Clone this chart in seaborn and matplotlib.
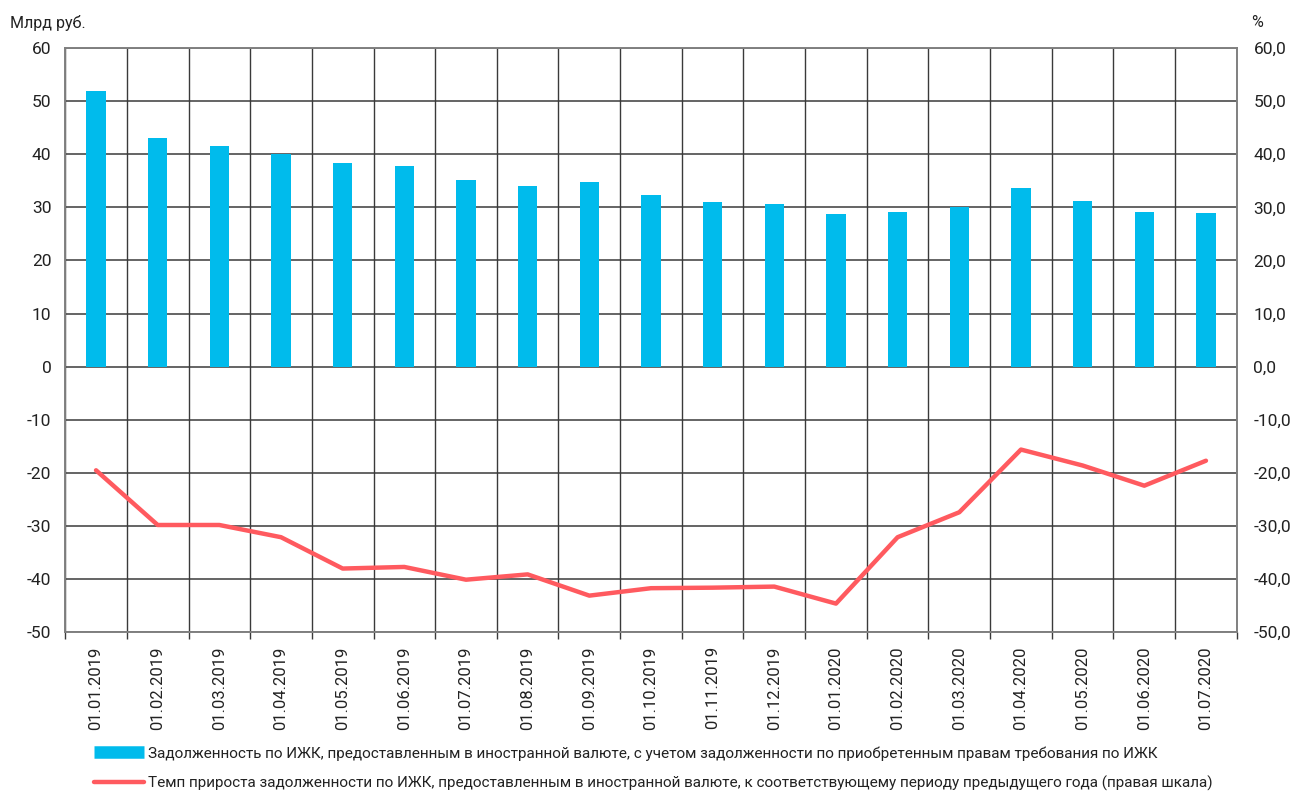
import numpy as np
import pandas as pd
import matplotlib
matplotlib.use("Agg")
import matplotlib.pyplot as plt
from matplotlib.lines import Line2D
import seaborn as sns

dates = ['01.01.2019', '01.02.2019', '01.03.2019', '01.04.2019', '01.05.2019',
         '01.06.2019', '01.07.2019', '01.08.2019', '01.09.2019', '01.10.2019',
         '01.11.2019', '01.12.2019', '01.01.2020', '01.02.2020', '01.03.2020',
         '01.04.2020', '01.05.2020', '01.06.2020', '01.07.2020']
debt = [51.9, 43.1, 41.6, 40.0, 38.4, 37.7, 35.1, 34.0, 34.7, 32.4,
        31.0, 30.7, 28.7, 29.2, 30.1, 33.6, 31.2, 29.2, 28.9]
growth = [-19.5, -29.8, -29.8, -32.1, -38.0, -37.7, -40.1, -39.1, -43.1, -41.7,
          -41.6, -41.4, -44.6, -32.1, -27.4, -15.6, -18.6, -22.4, -17.7]
left_ticks = list(range(-50, 61, 10))
right_labels = ['{:.1f}'.format(v).replace('.', ',') for v in left_ticks]

bar_label = 'Задолженность по ИЖК, предоставленным в иностранной валюте, с учетом задолженности по приобретенным правам требования по ИЖК'
line_label = 'Темп прироста задолженности по ИЖК, предоставленным в иностранной валюте, к соответствующему периоду предыдущего года (правая шкала)'

bar_color = '#00BBEC'
line_color = '#FF5A5F'
grid_color = '#3a3a3a'

sns.set_theme(style='white')
plt.rcParams['font.family'] = ['Roboto', 'DejaVu Sans']
plt.rcParams['axes.unicode_minus'] = False

df = pd.DataFrame({'date': dates, 'debt': debt, 'growth': growth})

fig = plt.figure(figsize=(12.91, 8.07), dpi=100)
ax = fig.add_axes([0.0505, 0.2165, 0.9075, 0.724])

sns.barplot(data=df, x='date', y='debt', color=bar_color, width=0.31,
            saturation=1, linewidth=0, ax=ax, zorder=3)
ax.set_ylim(-50, 60)
ax.set_yticks(left_ticks)
ax.set_xlim(-0.5, len(dates) - 0.5)
ax.set_xlabel('')
ax.set_ylabel('')

# grid: horizontal at every 10, vertical between categories
for v in left_ticks:
    ax.axhline(v, color=grid_color, lw=1.1, zorder=1)
for i in range(len(dates) + 1):
    ax.axvline(i - 0.5, color=grid_color, lw=1.0, zorder=1)

ax.set_xticks(range(len(dates)))
ax.set_xticklabels(dates, rotation=90)
ax.set_xticks(np.arange(-0.5, len(dates), 1.0), minor=True)
ax.tick_params(axis='x', which='major', length=0, pad=10, labelsize=12, colors='#222222')
ax.tick_params(axis='x', which='minor', length=5, width=1, color=grid_color, direction='out', bottom=True)
ax.tick_params(axis='y', length=0, pad=10, labelsize=12.5, colors='#222222')
for s in ax.spines.values():
    s.set_color('#808080')
    s.set_linewidth(1.2)

ax2 = ax.twinx()
sns.lineplot(x=np.arange(len(dates)), y=growth, color=line_color, lw=3.2, ax=ax2,
             legend=False, zorder=4)
ax2.set_ylim(-50, 60)
ax2.set_yticks(left_ticks)
ax2.set_yticklabels(right_labels)
ax2.tick_params(axis='y', length=0, pad=12, labelsize=12.5, colors='#222222')
ax2.set_xlim(-0.5, len(dates) - 0.5)
for s in ax2.spines.values():
    s.set_color('#808080')
    s.set_linewidth(1.2)

fig.text(0.008, 0.972, 'Млрд руб.', fontsize=11.5, color='#222222', va='center')
fig.text(0.969, 0.972, '%', fontsize=11.5, color='#222222', va='center')

handles = [Line2D([0], [0], color=bar_color, lw=9, solid_capstyle='butt'),
           Line2D([0], [0], color=line_color, lw=3.2)]
fig.legend(handles, [bar_label, line_label], loc='upper left',
           bbox_to_anchor=(0.068, 0.083), frameon=False, fontsize=11,
           handlelength=3.3, handletextpad=0.25, labelspacing=1.0,
           labelcolor='#222222', borderaxespad=0)

fig.savefig('out.png', dpi=100)
